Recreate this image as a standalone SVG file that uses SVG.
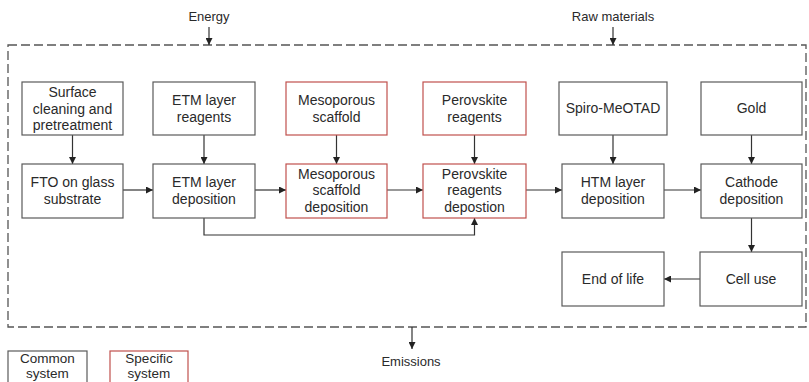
<svg xmlns="http://www.w3.org/2000/svg" width="809" height="382" viewBox="0 0 809 382">
<style>
.box{fill:#fff;stroke:#5a5a5a;stroke-width:1.2}
.red{fill:#fff;stroke:#c0504d;stroke-width:1.2}
.t{font-family:"Liberation Sans",Arial,sans-serif;font-size:14px;fill:#2a2a2a;text-anchor:middle}
.l{font-family:"Liberation Sans",Arial,sans-serif;font-size:13.5px;fill:#2a2a2a;text-anchor:middle}
.o{font-family:"Liberation Sans",Arial,sans-serif;font-size:13px;fill:#2a2a2a;text-anchor:middle}
.c{fill:none;stroke:#333;stroke-width:1.2;marker-end:url(#ah)}
.dash{fill:none;stroke:#555;stroke-width:1.3;stroke-dasharray:9 4}
</style>
<defs>
<marker id="ah" viewBox="0 0 10 10" refX="10" refY="5" markerWidth="7" markerHeight="7" markerUnits="userSpaceOnUse" orient="auto">
<path d="M0,0 L10,5 L0,10 z" fill="#222"/>
</marker>
</defs>
<rect class="dash" x="8" y="45" width="798" height="282"/>
<g id="connectors">
<line class="c" x1="209" y1="27" x2="209" y2="45"/>
<line class="c" x1="613" y1="27" x2="613" y2="45"/>
<line class="c" x1="412" y1="327" x2="412" y2="349"/>
<line class="c" x1="72.5" y1="135" x2="72.5" y2="164"/>
<line class="c" x1="204" y1="135" x2="204" y2="164"/>
<line class="c" x1="336.5" y1="135" x2="336.5" y2="164"/>
<line class="c" x1="474.5" y1="135" x2="474.5" y2="164"/>
<line class="c" x1="613" y1="135" x2="613" y2="164"/>
<line class="c" x1="751.5" y1="135" x2="751.5" y2="164"/>
<line class="c" x1="123" y1="190" x2="153" y2="190"/>
<line class="c" x1="255" y1="190" x2="286" y2="190"/>
<line class="c" x1="387" y1="190" x2="423" y2="190"/>
<line class="c" x1="526" y1="190" x2="562" y2="190"/>
<line class="c" x1="664" y1="190" x2="701" y2="190"/>
<polyline class="c" points="204,218 204,235 474.5,235 474.5,218"/>
<line class="c" x1="751.5" y1="218" x2="751.5" y2="252"/>
<line class="c" x1="700" y1="279" x2="664" y2="279"/>
</g>
<text class="o" x="209" y="21">Energy</text>
<text class="o" x="613" y="21">Raw materials</text>
<text class="o" x="411" y="366">Emissions</text>
<g id="surface"><rect class="box" x="22" y="82" width="101" height="53"/><text class="t" x="72.5" y="97">Surface</text><text class="t" x="72.5" y="113.5">cleaning and</text><text class="t" x="72.5" y="130">pretreatment</text></g>
<g id="etm-reagents"><rect class="box" x="153" y="82" width="102" height="53"/><text class="t" x="204" y="105">ETM layer</text><text class="t" x="204" y="121.5">reagents</text></g>
<g id="meso-scaffold"><rect class="red" x="286" y="82" width="101" height="53"/><text class="t" x="336.5" y="105">Mesoporous</text><text class="t" x="336.5" y="121.5">scaffold</text></g>
<g id="perov-reagents"><rect class="red" x="423" y="82" width="103" height="53"/><text class="t" x="474.5" y="105">Perovskite</text><text class="t" x="474.5" y="121.5">reagents</text></g>
<g id="spiro"><rect class="box" x="559" y="82" width="108" height="53"/><text class="t" x="613" y="113">Spiro-MeOTAD</text></g>
<g id="gold"><rect class="box" x="701" y="82" width="101" height="53"/><text class="t" x="751.5" y="113">Gold</text></g>
<g id="fto"><rect class="box" x="22" y="164" width="101" height="54"/><text class="t" x="72.5" y="187">FTO on glass</text><text class="t" x="72.5" y="204">substrate</text></g>
<g id="etm-dep"><rect class="box" x="153" y="164" width="102" height="54"/><text class="t" x="204" y="187">ETM layer</text><text class="t" x="204" y="204">deposition</text></g>
<g id="meso-dep"><rect class="red" x="286" y="164" width="101" height="54"/><text class="t" x="336.5" y="178.5">Mesoporous</text><text class="t" x="336.5" y="195">scaffold</text><text class="t" x="336.5" y="211.5">deposition</text></g>
<g id="perov-dep"><rect class="red" x="423" y="164" width="103" height="54"/><text class="t" x="474.5" y="178.5">Perovskite</text><text class="t" x="474.5" y="195">reagents</text><text class="t" x="474.5" y="211.5">depostion</text></g>
<g id="htm-dep"><rect class="box" x="562" y="164" width="102" height="54"/><text class="t" x="613" y="187">HTM layer</text><text class="t" x="613" y="204">deposition</text></g>
<g id="cathode-dep"><rect class="box" x="701" y="164" width="101" height="54"/><text class="t" x="751.5" y="187">Cathode</text><text class="t" x="751.5" y="204">deposition</text></g>
<g id="end-of-life"><rect class="box" x="562" y="252" width="102" height="54"/><text class="t" x="613" y="283.5">End of life</text></g>
<g id="cell-use"><rect class="box" x="700" y="252" width="102" height="54"/><text class="t" x="751" y="283.5">Cell use</text></g>
<g id="legend-common"><rect class="box" x="8" y="351" width="79" height="40"/><text class="l" x="47.5" y="363">Common</text><text class="l" x="47.5" y="378">system</text></g>
<g id="legend-specific"><rect class="red" x="110" y="351" width="78" height="40"/><text class="l" x="149" y="363">Specific</text><text class="l" x="149" y="378">system</text></g>
</svg>
